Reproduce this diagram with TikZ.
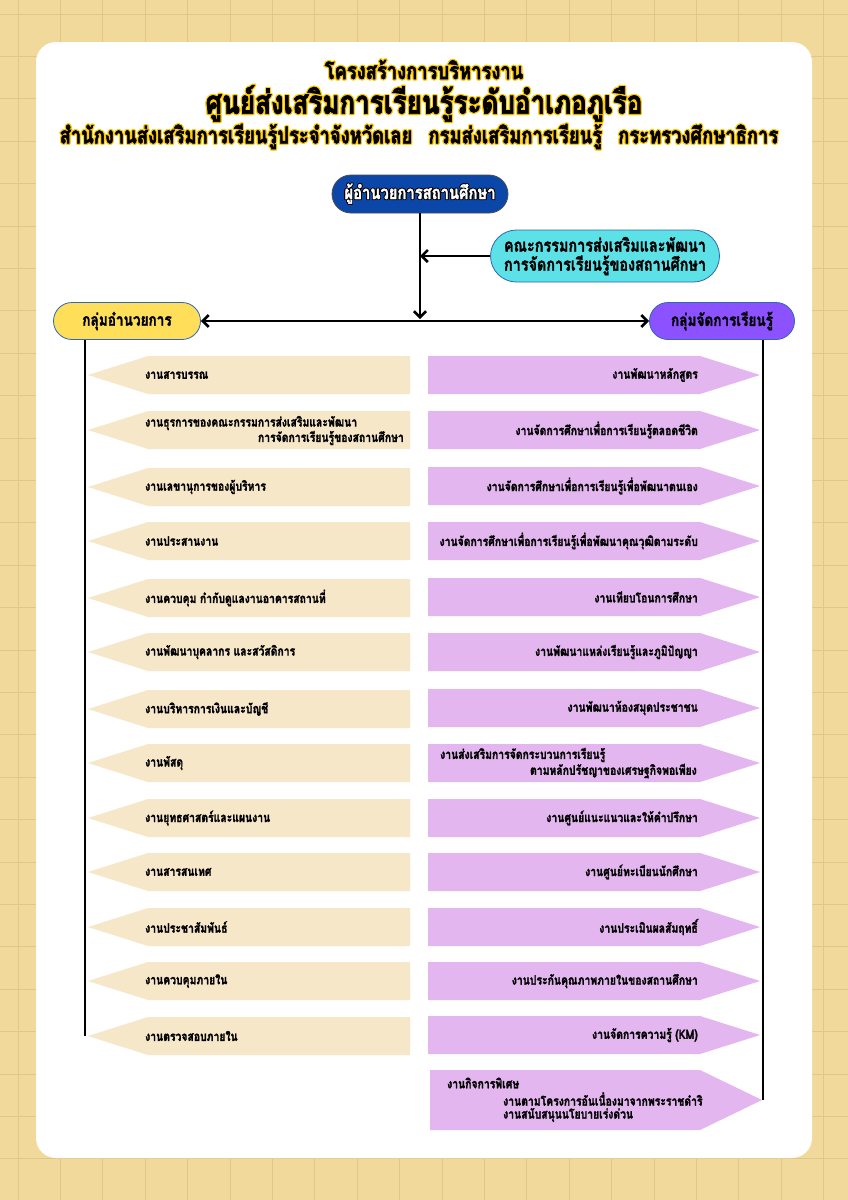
\documentclass[tikz,border=0pt]{standalone}
\usepackage{fontspec}
\usepackage[copies]{contour}
\setmainfont{Loma}[Script=Thai]
\newfontfamily\thb{Loma}[Script=Thai,FakeStretch=0.8,BoldFeatures={FakeBold=1.6}]
\newfontfamily\tht{Loma}[Script=Thai,FakeStretch=0.8,BoldFeatures={FakeBold=2.2}]
\usetikzlibrary{arrows.meta,shapes.misc}
\definecolor{bgc}{HTML}{F1D99B}
\definecolor{gridc}{HTML}{E2C688}
\definecolor{lbox}{HTML}{F6E7C9}
\definecolor{rbox}{HTML}{E3B6EF}
\definecolor{dirc}{HTML}{0A47A9}
\definecolor{comc}{HTML}{5CE1E6}
\definecolor{lgc}{HTML}{FFDE59}
\definecolor{rgc}{HTML}{8C52FF}
\definecolor{bordc}{HTML}{2F67B5}
\definecolor{goldc}{HTML}{FFCC00}
\tikzset{
  gridline/.style={gridc, line width=1},
  conn/.style={line width=2.6, black},
  spine/.style={line width=2.8, black},
  pill/.style={rounded rectangle, draw=bordc, line width=0.8, inner sep=2},
  director/.style={pill, fill=dirc, draw=black!70, minimum width=180, minimum height=38},
  committee/.style={pill, fill=comc, minimum width=229, minimum height=52, align=center, inner xsep=0},
  lgroup/.style={pill, fill=lgc, minimum width=151, minimum height=37},
  rgroup/.style={pill, fill=rgc, minimum width=149, minimum height=37},
  lfill/.style={fill=lbox},
  rfill/.style={fill=rbox},
  lbl/.style={inner sep=0, font=\thb\bfseries\fontsize{13}{14}\selectfont},
  grp/.style={font=\thb\bfseries\fontsize{17}{19}\selectfont},
  ttl/.style={inner sep=0},
}
\begin{document}
\begin{tikzpicture}[x=1pt,y=-1pt]
\useasboundingbox (0,0) rectangle (848,1200);
\fill[bgc] (0,0) rectangle (848,1200);
\foreach \i in {0,...,20} {
  \draw[gridline] (18+42.4*\i,0) -- ++(0,1200);
}
\foreach \i in {0,...,28} {
  \draw[gridline] (0,14+42.4*\i) -- ++(848,0);
}
\fill[white, rounded corners=20] (36,42) rectangle (812,1158);

% titles
\contourlength{1.1pt}
\node[ttl, font=\tht\bfseries\fontsize{23}{25}\selectfont] (t1) at (424,70) {\contour{goldc}{โครงสร้างการบริหารงาน}};
\node[ttl, font=\tht\bfseries\fontsize{32.5}{34}\selectfont] (t2) at (424,104) {\contour{goldc}{ศูนย์ส่งเสริมการเรียนรู้ระดับอำเภอภูเรือ}};
\node[ttl, font=\tht\bfseries\fontsize{23}{25}\selectfont] (t3) at (419,137) {\contour{goldc}{สำนักงานส่งเสริมการเรียนรู้ประจำจังหวัดเลย\hspace{0.7em}กรมส่งเสริมการเรียนรู้\hspace{0.7em}กระทรวงศึกษาธิการ}};

% top nodes
\contourlength{0.8pt}
\node[director, font=\thb\bfseries\fontsize{18.5}{20}\selectfont] (dir) at (420,194) {\contour{black}{\color{white}ผู้อำนวยการสถานศึกษา}};
\node[committee, font=\thb\bfseries\fontsize{18}{19}\selectfont] (com) at (605,256) {คณะกรรมการส่งเสริมและพัฒนา\\การจัดการเรียนรู้ของสถานศึกษา};
\node[lgroup, grp] (lg) at (127,321) {กลุ่มอำนวยการ};
\node[rgroup, grp] (rg) at (722,321) {กลุ่มจัดการเรียนรู้};

\coordinate (jn) at (420,319);
\draw[conn, -{Straight Barb[length=6,width=12]}] (dir.south) -- (jn);
\draw[conn, -{Straight Barb[length=6,width=12]}] (com.west) -- (com.west -| dir.south);
\draw[conn, {Straight Barb[length=6,width=12]}-{Straight Barb[length=6,width=12]}] (lg.east) -- (rg.west);

% spines
\coordinate (lend) at (85,1036);
\coordinate (rend) at (763,1100);
\draw[spine] (lg.south -| lend) -- (lend);
\draw[spine] (rg.south -| rend) -- (rend);

% left boxes
\foreach \cy/\t in {375/{งานสารบรรณ},430/{},487/{งานเลขานุการของผู้บริหาร},541/{งานประสานงาน},598/{งานควบคุม กำกับดูแลงานอาคารสถานที่},652/{งานพัฒนาบุคลากร และสวัสดิการ},709/{งานบริหารการเงินและบัญชี},763/{งานพัสดุ},818/{งานยุทธศาสตร์และแผนงาน},872/{งานสารสนเทศ},927/{งานประชาสัมพันธ์},981/{งานควบคุมภายใน},1036/{งานตรวจสอบภายใน}} {
  \fill[lfill] (88,\cy) -- (148,\cy-19) -- (410,\cy-19) -- (410,\cy+19) -- (148,\cy+19) -- cycle;
  \node[lbl, anchor=west] at (145,\cy) {\t};
}
\node[lbl, anchor=west] (l2a) at (145,423) {งานธุรการของคณะกรรมการส่งเสริมและพัฒนา};
\node[lbl, anchor=east] (l2b) at (404,438) {การจัดการเรียนรู้ของสถานศึกษา};

% right boxes
\foreach \cy/\t in {375/{งานพัฒนาหลักสูตร},430/{งานจัดการศึกษาเพื่อการเรียนรู้ตลอดชีวิต},486/{งานจัดการศึกษาเพื่อการเรียนรู้เพื่อพัฒนาตนเอง},541/{งานจัดการศึกษาเพื่อการเรียนรู้เพื่อพัฒนาคุณวุฒิตามระดับ},597/{งานเทียบโอนการศึกษา},652/{งานพัฒนาแหล่งเรียนรู้และภูมิปัญญา},708/{งานพัฒนาห้องสมุดประชาชน},763/{},818/{งานศูนย์แนะแนวและให้คำปรึกษา},872/{งานศูนย์ทะเบียนนักศึกษา},927/{งานประเมินผลสัมฤทธิ์},981/{งานประกันคุณภาพภายในของสถานศึกษา},1035/{งานจัดการความรู้ (KM)}} {
  \fill[rfill] (428,\cy-19) -- (700,\cy-19) -- (760,\cy) -- (700,\cy+19) -- (428,\cy+19) -- cycle;
  \node[lbl, anchor=east] at (698,\cy) {\t};
}
\node[lbl, anchor=west] (r8a) at (440,755) {งานส่งเสริมการจัดกระบวนการเรียนรู้};
\node[lbl, anchor=east] (r8b) at (697,771) {ตามหลักปรัชญาของเศรษฐกิจพอเพียง};

\fill[rfill] (430,1070) -- (700,1070) -- (762,1100) -- (700,1130) -- (430,1130) -- cycle;
\node[lbl, anchor=west] (r14a) at (447,1083) {งานกิจการพิเศษ};
\node[lbl, anchor=west] (r14b) at (503,1099) {งานตามโครงการอันเนื่องมาจากพระราชดำริ};
\node[lbl, anchor=west] (r14c) at (503,1115) {งานสนับสนุนนโยบายเร่งด่วน};
\end{tikzpicture}
\end{document}
